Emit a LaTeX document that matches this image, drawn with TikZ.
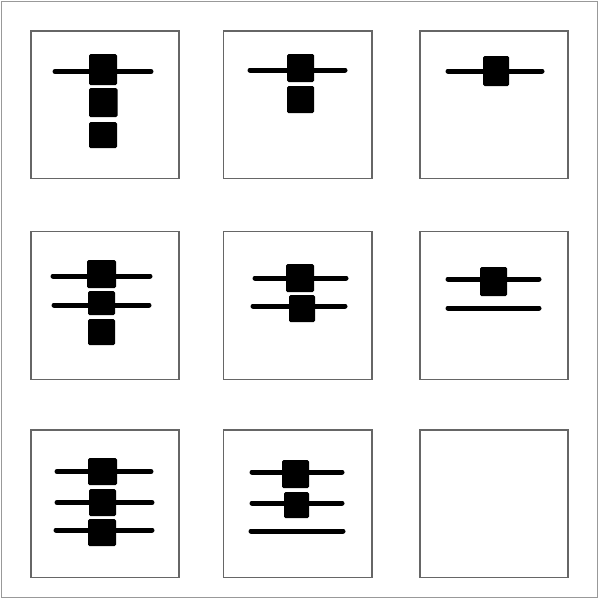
\documentclass[tikz,border=0pt]{standalone}
\begin{document}
\begin{tikzpicture}[x=1pt,y=-1pt,
  outer/.style={draw=black!40,line width=1.5pt},
  panel/.style={draw=black!60,line width=1.2pt},
  bar/.style={line width=5pt,line cap=round,black},
  block/.style={fill=black,rounded corners=1.5pt}]
\useasboundingbox (0,0) rectangle (600,600);
\draw[outer] (1.5,1.5) rectangle (597.5,597.5);
% panel frames
\foreach \x/\X in {31/179,223.5/372,420/568}{
  \foreach \y/\Y in {31/178.5,231.5/379.5,430/577.5}{
    \draw[panel] (\x,\y) rectangle (\X,\Y);
  }
}
% row 1 col 1
\draw[bar] (55,71.5) -- (151,71.5);
\fill[block] (89,54) rectangle (117,85);
\fill[block] (89,88) rectangle (117.5,117);
\fill[block] (89,122) rectangle (117,148);
% row 1 col 2
\draw[bar] (250,70) -- (345,70);
\fill[block] (287,54) rectangle (314,82);
\fill[block] (287,86) rectangle (314,113);
% row 1 col 3
\draw[bar] (448,71) -- (542,71);
\fill[block] (483,56) rectangle (509,86);
% row 2 col 1
\draw[bar] (53,276) -- (150,276);
\draw[bar] (54,305) -- (149,305);
\fill[block] (87,260) rectangle (116,288);
\fill[block] (88,291) rectangle (115,315);
\fill[block] (88,319) rectangle (115,345);
% row 2 col 2
\draw[bar] (255,278) -- (346,278);
\draw[bar] (253,306) -- (345,306);
\fill[block] (286,264) rectangle (314,292);
\fill[block] (289,295) rectangle (315,322);
% row 2 col 3
\draw[bar] (448,279) -- (539,279);
\fill[block] (480,267) rectangle (507,296);
\draw[bar] (448,308) -- (539,308);
% row 3 col 1
\draw[bar] (57,471.5) -- (151,471.5);
\draw[bar] (57,502.5) -- (152,502.5);
\draw[bar] (56,530) -- (152,530);
\fill[block] (88,458) rectangle (117,485);
\fill[block] (89,489) rectangle (116,516);
\fill[block] (88,519) rectangle (116,546);
% row 3 col 2
\draw[bar] (252,472) -- (342,472);
\draw[bar] (252,503) -- (342,503);
\draw[bar] (251,531) -- (343,531);
\fill[block] (282,460) rectangle (309,488);
\fill[block] (284,492) rectangle (309,518);
\end{tikzpicture}
\end{document}
